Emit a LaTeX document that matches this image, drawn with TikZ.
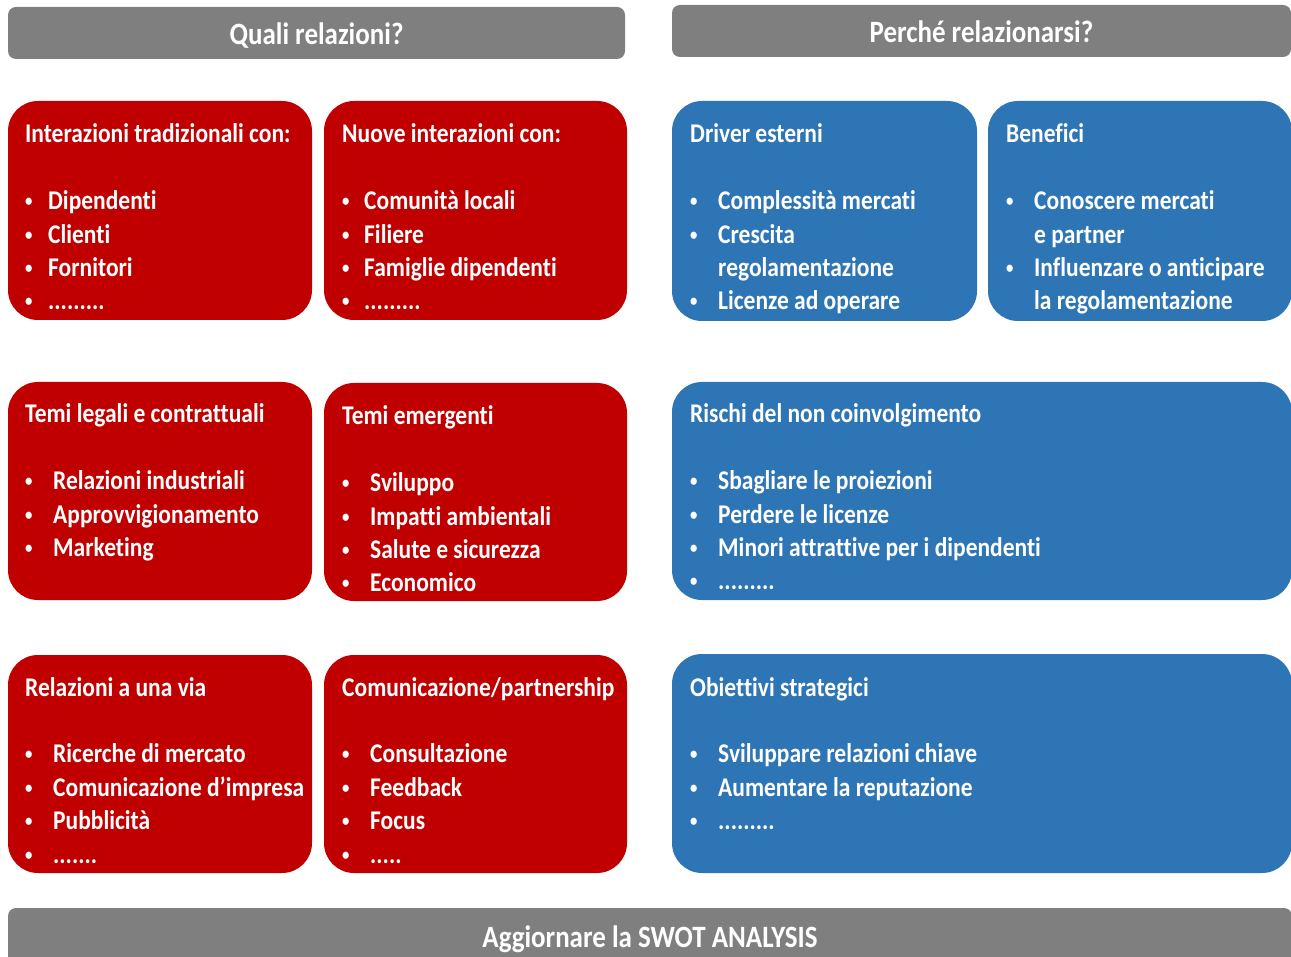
\documentclass[tikz,border=0pt]{standalone}
\usepackage{fontspec}
\newfontfamily\boxfont{Carlito}[FakeStretch=0.87,Ligatures=NoCommon]
\definecolor{boxred}{HTML}{C00000}
\definecolor{boxblue}{HTML}{2E75B6}
\definecolor{headgray}{HTML}{7F7F7F}
\newcommand{\bl}[2][28pt]{\makebox[#1][l]{\raisebox{3pt}{\fontsize{17}{17}\selectfont\textbullet}}#2}
\newcommand{\cont}[2][28pt]{\hspace*{#1}#2}

\begin{document}
\begin{tikzpicture}[x=1pt,y=-1pt,
  box/.style={rounded corners=30pt,inner sep=0pt,draw=none},
  redbox/.style={box,fill=boxred},
  bluebox/.style={box,fill=boxblue},
  head/.style={fill=headgray,rounded corners=8pt,text=white,inner sep=0pt,
    text height=25pt,text depth=1pt,
    font=\boxfont\bfseries\fontsize{31}{36}\selectfont},
  txt/.style={anchor=base west,inner sep=0pt,text=white,
    font=\boxfont\bfseries\fontsize{27}{33.4}\selectfont}]
\useasboundingbox (0,0) rectangle (1291,957);
%% headers
\node (head_quali) at (316.5,33) [head,minimum width=617pt,minimum height=52pt] {Quali relazioni?};
\node (head_perche) at (981.5,31) [head,minimum width=619pt,minimum height=52pt] {Perché relazionarsi?};
\node (head_swot) at (650,937) [head,text depth=4pt,minimum width=1284pt,minimum height=58pt] {Aggiornare la SWOT ANALYSIS};
%% red boxes
\node (box_trad) at (160,210.5) [redbox,minimum width=304pt,minimum height=219pt] {};
\node (box_nuove) at (475.5,210.5) [redbox,minimum width=303pt,minimum height=219pt] {};
\node (box_legali) at (160,491) [redbox,minimum width=304pt,minimum height=218pt] {};
\node (box_emerg) at (475.5,492) [redbox,minimum width=303pt,minimum height=218pt] {};
\node (box_via) at (160,764) [redbox,minimum width=304pt,minimum height=218pt] {};
\node (box_comun) at (475.5,764) [redbox,minimum width=303pt,minimum height=218pt] {};
%% blue boxes
\node (box_driver) at (824.5,211) [bluebox,minimum width=305pt,minimum height=220pt] {};
\node (box_benef) at (1140,211) [bluebox,minimum width=304pt,minimum height=220pt] {};
\node (box_rischi) at (982,491) [bluebox,minimum width=620pt,minimum height=218pt] {};
\node (box_obiet) at (982,763.5) [bluebox,minimum width=620pt,minimum height=219pt] {};
%% texts
\node (txt_trad) at (25,143) [txt] {\parbox[t]{300pt}{\raggedright Interazioni tradizionali con:\\[33.4pt]
  \bl[23pt]{Dipendenti}\\ \bl[23pt]{Clienti}\\ \bl[23pt]{Fornitori}\\ \bl[23pt]{.........}}};
\node (txt_nuove) at (342,143) [txt] {\parbox[t]{300pt}{\raggedright Nuove interazioni con:\\[33.4pt]
  \bl[22pt]{Comunità locali}\\ \bl[22pt]{Filiere}\\ \bl[22pt]{Famiglie dipendenti}\\ \bl[22pt]{.........}}};
\node (txt_legali) at (25,423) [txt] {\parbox[t]{300pt}{\raggedright Temi legali e contrattuali\\[33.4pt]
  \bl{Relazioni industriali}\\ \bl{Approvvigionamento}\\ \bl{Marketing}}};
\node (txt_emerg) at (342,425) [txt] {\parbox[t]{300pt}{\raggedright Temi emergenti\\[33.4pt]
  \bl{Sviluppo}\\ \bl{Impatti ambientali}\\ \bl{Salute e sicurezza}\\ \bl{Economico}}};
\node (txt_via) at (25,696) [txt] {\parbox[t]{300pt}{\raggedright Relazioni a una via\\[33.4pt]
  \bl{Ricerche di mercato}\\ \bl{Comunicazione d’impresa}\\ \bl{Pubblicità}\\ \bl{.......}}};
\node (txt_comun) at (342,696) [txt] {\parbox[t]{300pt}{\raggedright Comunicazione/partnership\\[33.4pt]
  \bl{Consultazione}\\ \bl{Feedback}\\ \bl{Focus}\\ \bl{.....}}};
\node (txt_driver) at (690,143) [txt] {\parbox[t]{300pt}{\raggedright Driver esterni\\[33.4pt]
  \bl{Complessità mercati}\\ \bl{Crescita}\\ \cont{regolamentazione}\\ \bl{Licenze ad operare}}};
\node (txt_benef) at (1006,143) [txt] {\parbox[t]{300pt}{\raggedright Benefici\\[33.4pt]
  \bl{Conoscere mercati}\\ \cont{e partner}\\ \bl{Influenzare o anticipare}\\ \cont{la regolamentazione}}};
\node (txt_rischi) at (690,423) [txt] {\parbox[t]{500pt}{\raggedright Rischi del non coinvolgimento\\[33.4pt]
  \bl{Sbagliare le proiezioni}\\ \bl{Perdere le licenze}\\ \bl{Minori attrattive per i dipendenti}\\ \bl{.........}}};
\node (txt_obiet) at (690,696) [txt] {\parbox[t]{500pt}{\raggedright Obiettivi strategici\\[33.4pt]
  \bl{Sviluppare relazioni chiave}\\ \bl{Aumentare la reputazione}\\ \bl{.........}}};
%
\end{tikzpicture}
\end{document}
